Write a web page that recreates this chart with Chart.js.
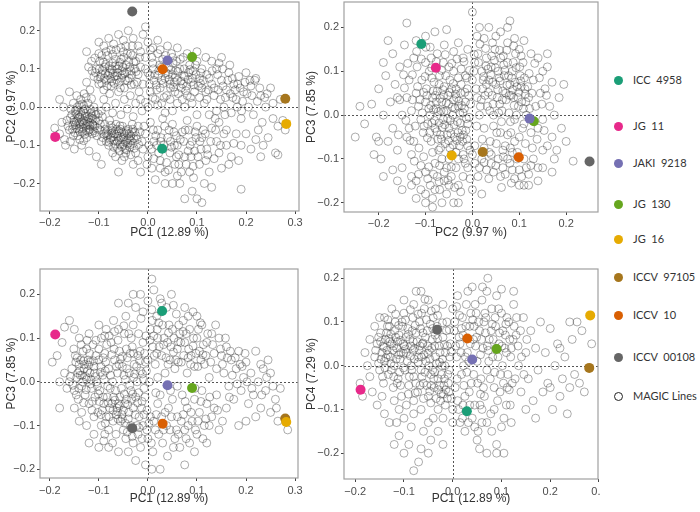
<!DOCTYPE html>
<html>
<head>
<meta charset="utf-8">
<script src="https://cdn.jsdelivr.net/npm/chart.js@4.4.1/dist/chart.umd.min.js"></script>
<style>
  body { margin: 0; background: #fff; }
  #wrap { position: relative; width: 700px; height: 512px; overflow: hidden; }
  canvas { position: absolute; }
  #clip4 { position: absolute; left: 300px; top: 260px; width: 300px; height: 252px; overflow: hidden; }
  .leg { position: absolute; left: 614px; font: 11px Lato, "Open Sans", sans-serif; color: #333; white-space: pre; line-height: 14px; }
  .leg i { display: inline-block; width: 9px; height: 9px; border-radius: 50%; margin-right: 10px; vertical-align: -1px; box-sizing: border-box; }
</style>
</head>
<body>
<div id="wrap">
  <canvas id="p1" width="304" height="248" style="left:0;top:-3px"></canvas>
  <canvas id="p2" width="303" height="248" style="left:300px;top:-3px"></canvas>
  <canvas id="p3" width="303" height="252" style="left:0;top:260px"></canvas>
  <div id="clip4"><canvas id="p4" width="303" height="252" style="left:0;top:0"></canvas></div>
  <div id="legend"></div>
</div>
<script>
// parent genotypes and their scores on the first four PCs
const genotypes = ['ICC  4958', 'JG  11', 'JAKI  9218', 'JG  130', 'JG  16', 'ICCV  97105', 'ICCV  10', 'ICCV  00108'];
const genoColors = ['#1b9e77', '#e7298a', '#7570b3', '#66a61e', '#e6ab02', '#a6761d', '#d95f02', '#666666'];
const pc1 = [0.029, -0.189, 0.040, 0.090, 0.282, 0.280, 0.030, -0.032];
const pc2 = [-0.109, -0.078, 0.122, 0.131, -0.044, 0.022, 0.099, 0.250];
const pc3 = [0.162, 0.108, -0.008, -0.014, -0.092, -0.084, -0.096, -0.106];
const pc4 = [-0.104, -0.055, 0.014, 0.038, 0.115, -0.005, 0.062, 0.082];

const axisTitles = ['PC1 (12.89 %)', 'PC2 (9.97 %)', 'PC3 (7.85 %)', 'PC4 (7.29 %)'];
const ticksA = [-0.2, -0.1, 0, 0.1, 0.2, 0.3];
const ticksB = [-0.2, -0.1, 0, 0.1, 0.2];

// MAGIC lines (x, y)
const cloudPC1PC2 = [
  [-0.155,-0.02],[-0.15,-0.04],[-0.148,-0.01],[-0.145,-0.055],[-0.142,-0.03],[-0.14,0.005],[-0.138,-0.045],[-0.135,-0.02],[-0.133,-0.065],[-0.13,-0.035],[-0.128,-0.005],[-0.126,-0.05],[-0.124,-0.025],[-0.122,0.01],[-0.12,-0.06],[-0.118,-0.04],[-0.116,-0.015],[-0.114,-0.07],[-0.112,-0.03],[-0.11,0.0],[-0.108,-0.05],[-0.106,-0.02],[-0.104,-0.075],[-0.16,-0.06],[-0.165,-0.035],[-0.152,0.01],[-0.137,0.02],[-0.125,-0.08],[-0.143,-0.075],[-0.1,-0.035],[-0.098,-0.06],[-0.132,-0.01],[-0.119,-0.048],[-0.146,-0.038],
  [-0.158,-0.028],[-0.153,-0.048],[-0.149,-0.067],[-0.147,-0.018],[-0.144,0.0],[-0.141,-0.058],[-0.139,-0.027],[-0.136,-0.052],[-0.134,0.008],[-0.131,-0.043],[-0.129,-0.072],[-0.127,-0.017],[-0.123,-0.038],[-0.121,-0.066],[-0.117,-0.006],[-0.113,-0.045],[-0.111,-0.062],[-0.109,-0.012],[-0.107,-0.035],[-0.103,-0.055],[-0.101,-0.018],[-0.139,-0.085],[-0.152,-0.075],[-0.163,-0.05],[-0.157,-0.005],[-0.126,0.025],[-0.115,0.022],[-0.097,-0.045],[-0.093,-0.025],[-0.131,-0.088],
  [-0.151,-0.033],[-0.147,-0.046],[-0.143,-0.022],[-0.141,-0.041],[-0.137,-0.013],[-0.134,-0.038],[-0.132,-0.056],[-0.128,-0.024],[-0.124,-0.046],[-0.121,-0.031],[-0.118,-0.058],[-0.114,-0.023],[-0.112,-0.047],[-0.139,-0.064],[-0.126,-0.062],[-0.145,-0.008],[-0.131,0.004],[-0.117,-0.028],[-0.154,-0.058],[-0.108,-0.067],
  [-0.19,-0.055],[-0.18,-0.07],[-0.175,-0.04],[-0.17,-0.085],[-0.172,0.0],[-0.18,0.02],[-0.168,-0.1],[-0.158,-0.09],[-0.15,-0.11],[-0.135,-0.1],[-0.12,-0.115],[-0.105,-0.13],[-0.095,-0.15],[-0.145,0.03],[-0.16,0.04],[-0.13,0.035],
  [-0.09,-0.07],[-0.088,-0.045],[-0.085,-0.09],[-0.082,-0.06],[-0.08,-0.1],[-0.078,-0.035],[-0.075,-0.08],[-0.072,-0.055],[-0.07,-0.105],[-0.068,-0.07],[-0.065,-0.045],[-0.062,-0.09],[-0.06,-0.062],[-0.058,-0.115],[-0.055,-0.08],[-0.052,-0.05],[-0.05,-0.098],[-0.048,-0.07],[-0.045,-0.12],[-0.042,-0.085],[-0.04,-0.058],[-0.037,-0.105],[-0.035,-0.075],[-0.032,-0.045],[-0.03,-0.095],[-0.027,-0.065],[-0.025,-0.12],[-0.022,-0.085],[-0.02,-0.05],[-0.095,-0.09],[-0.066,-0.13],[-0.053,-0.14],
  [-0.092,-0.08],[-0.087,-0.058],[-0.083,-0.075],[-0.079,-0.092],[-0.076,-0.048],[-0.073,-0.068],[-0.069,-0.088],[-0.064,-0.058],[-0.061,-0.076],[-0.057,-0.098],[-0.054,-0.065],[-0.051,-0.085],[-0.047,-0.108],[-0.044,-0.062],[-0.041,-0.095],[-0.038,-0.07],[-0.034,-0.088],[-0.031,-0.058],[-0.028,-0.108],[-0.024,-0.075],[-0.019,-0.098],[-0.016,-0.065],[-0.072,-0.12],[-0.048,-0.13],[-0.035,-0.125],
  [-0.081,-0.071],[-0.077,-0.085],[-0.074,-0.062],[-0.071,-0.078],[-0.067,-0.097],[-0.064,-0.07],[-0.059,-0.086],[-0.056,-0.058],[-0.053,-0.104],[-0.049,-0.078],[-0.046,-0.092],[-0.043,-0.068],[-0.039,-0.082],[-0.036,-0.099],[-0.033,-0.066],[-0.029,-0.082],[-0.062,-0.108],[-0.044,-0.112],[-0.086,-0.068],[-0.057,-0.049],
  [-0.095,-0.01],[-0.09,0.02],[-0.085,0.0],[-0.078,0.035],[-0.072,-0.015],[-0.066,0.01],[-0.06,0.04],[-0.055,-0.02],[-0.048,0.02],[-0.042,-0.005],[-0.036,0.03],[-0.03,-0.025],[-0.025,0.01],[-0.018,0.04],[-0.012,-0.01],
  [-0.11,0.08],[-0.105,0.1],[-0.1,0.06],[-0.098,0.12],[-0.095,0.085],[-0.09,0.045],[-0.088,0.105],[-0.085,0.07],[-0.082,0.135],[-0.078,0.09],[-0.075,0.055],[-0.072,0.115],[-0.068,0.08],[-0.065,0.15],[-0.062,0.1],[-0.058,0.065],[-0.055,0.125],[-0.052,0.085],[-0.048,0.05],[-0.045,0.11],[-0.042,0.14],[-0.038,0.075],[-0.035,0.095],[-0.032,0.16],[-0.028,0.06],[-0.025,0.12],[-0.02,0.085],[-0.015,0.105],[-0.118,0.045],[-0.125,0.065],[-0.115,0.12],[-0.1,0.14],
  [-0.107,0.09],[-0.102,0.073],[-0.099,0.1],[-0.094,0.062],[-0.091,0.118],[-0.087,0.088],[-0.083,0.055],[-0.079,0.108],[-0.076,0.075],[-0.073,0.098],[-0.069,0.062],[-0.066,0.125],[-0.063,0.082],[-0.059,0.108],[-0.056,0.05],[-0.053,0.095],[-0.049,0.13],[-0.046,0.07],[-0.043,0.092],[-0.039,0.118],[-0.034,0.058],[-0.031,0.135],[-0.027,0.1],[-0.022,0.065],[-0.017,0.13],
  [-0.097,0.078],[-0.093,0.096],[-0.089,0.075],[-0.086,0.112],[-0.081,0.083],[-0.077,0.1],[-0.074,0.067],[-0.071,0.088],[-0.067,0.108],[-0.064,0.072],[-0.061,0.09],[-0.057,0.117],[-0.054,0.076],[-0.051,0.104],[-0.047,0.088],[-0.041,0.069],[-0.037,0.105],[-0.033,0.084],[-0.029,0.118],[-0.024,0.093],
  [-0.114,0.095],[-0.121,0.105],[-0.108,0.128],[-0.094,0.135],[-0.072,0.138],[-0.05,0.145],
  [-0.09,0.16],[-0.08,0.18],[-0.07,0.165],[-0.06,0.19],[-0.05,0.175],[-0.04,0.2],[-0.03,0.18],[-0.02,0.16],[-0.01,0.19],[0.0,0.17],[-0.005,0.21],[0.01,0.155],[0.02,0.175],[0.04,0.16],[-0.1,0.17],[-0.045,0.16],[0.06,0.155],[-0.125,0.145],
  [-0.085,0.145],[-0.075,0.15],[-0.055,0.155],[-0.035,0.14],[-0.015,0.145],[0.005,0.15],[0.025,0.15],[0.05,0.13],[0.08,0.14],[0.1,0.145],
  [-0.01,0.06],[-0.005,0.13],[0.0,0.09],[0.005,0.04],[0.01,0.115],[0.012,0.07],[0.015,0.02],[0.02,0.14],[0.022,0.095],[0.025,0.05],[0.03,0.125],[0.035,0.075],[0.038,0.03],[0.042,0.105],[0.045,0.06],[0.048,0.14],[0.05,0.085],[0.055,0.04],[0.058,0.12],[0.06,0.07],[0.065,0.1],[0.068,0.05],[0.072,0.13],[0.075,0.08],[0.08,0.03],[0.085,0.11],[0.088,0.065],[0.092,0.095],[0.095,0.04],[0.1,0.12],[0.105,0.075],[0.11,0.1],[0.0,0.0],[0.02,0.005],[0.06,0.01],[0.07,0.02],
  [-0.005,0.1],[0.003,0.06],[0.008,0.13],[0.014,0.085],[0.018,0.045],[0.024,0.11],[0.028,0.07],[0.033,0.025],[0.036,0.135],[0.041,0.085],[0.046,0.05],[0.051,0.115],[0.054,0.065],[0.057,0.095],[0.062,0.035],[0.066,0.125],[0.071,0.06],[0.074,0.1],[0.079,0.055],[0.083,0.09],[0.087,0.025],[0.091,0.075],[0.097,0.11],[0.103,0.055],[0.108,0.09],[0.113,0.07],[0.118,0.04],[0.045,0.02],[0.01,0.025],[-0.015,0.02],
  [0.004,0.082],[0.011,0.1],[0.017,0.058],[0.021,0.083],[0.027,0.104],[0.031,0.062],[0.037,0.09],[0.043,0.072],[0.047,0.098],[0.052,0.052],[0.056,0.078],[0.061,0.093],[0.067,0.068],[0.073,0.083],[0.077,0.043],[0.082,0.072],[0.086,0.098],[0.093,0.058],[0.098,0.085],[0.107,0.062],
  [-0.005,0.012],[0.028,0.01],[0.05,-0.01],[0.075,0.0],[0.09,0.01],[0.1,-0.02],[0.105,0.025],[0.035,-0.015],
  [0.11,0.05],[0.115,0.01],[0.12,0.085],[0.125,-0.02],[0.13,0.06],[0.135,0.03],[0.14,0.1],[0.145,-0.04],[0.15,0.07],[0.155,0.0],[0.16,0.045],[0.165,0.09],[0.17,-0.015],[0.175,0.06],[0.18,0.02],[0.185,0.08],[0.19,-0.03],[0.195,0.04],[0.2,0.09],[0.205,0.0],[0.13,0.12],[0.15,0.13],[0.12,0.02],[0.14,-0.01],[0.16,-0.06],
  [0.125,0.075],[0.135,0.05],[0.142,0.085],[0.148,0.02],[0.153,0.055],[0.158,0.025],[0.163,0.07],[0.168,0.035],[0.172,0.075],[0.178,0.045],[0.182,0.0],[0.188,0.05],[0.193,0.015],[0.198,0.065],[0.212,0.03],[0.218,0.07],[0.228,0.05],[0.238,0.025],[0.145,0.115],[0.118,0.13],
  [0.123,0.045],[0.131,0.095],[0.137,-0.03],[0.143,0.045],[0.152,0.1],[0.157,-0.02],[0.167,0.11],[0.173,0.025],[0.183,0.06],[0.191,-0.01],[0.202,0.035],[0.208,0.07],[0.223,0.015],[0.233,-0.04],[0.243,0.035],
  [0.21,0.055],[0.215,-0.02],[0.22,0.075],[0.225,-0.06],[0.23,0.03],[0.235,-0.1],[0.24,0.0],[0.245,-0.08],[0.25,0.05],[0.255,-0.03],[0.26,-0.12],[0.265,-0.05],[0.27,0.02],[0.275,-0.035],[0.23,-0.13],[0.21,-0.11],[0.22,-0.085],[0.2,-0.07],[0.255,0.01],[0.28,-0.06],[0.265,-0.125],
  [-0.02,-0.14],[-0.015,-0.17],[-0.01,-0.11],[-0.005,-0.07],[0.0,-0.13],[0.005,-0.04],[0.008,-0.16],[0.012,-0.09],[0.015,-0.19],[0.02,-0.06],[0.025,-0.14],[0.03,-0.03],[0.035,-0.17],[0.04,-0.08],[0.045,-0.12],[0.05,-0.045],[0.055,-0.15],[0.06,-0.1],[0.065,-0.2],[0.07,-0.065],[0.075,-0.13],[0.08,-0.035],[0.085,-0.17],[0.09,-0.09],[0.095,-0.115],[0.1,-0.05],[0.105,-0.15],[0.11,-0.08],[0.115,-0.2],[0.12,-0.11],[0.125,-0.17],[0.13,-0.055],[0.135,-0.135],[0.14,-0.09],[0.15,-0.16],[0.16,-0.1],[0.17,-0.13],[0.18,-0.07],[0.19,-0.1],[0.075,-0.24],[0.1,-0.24],[0.11,-0.25],[0.09,-0.22],[0.05,-0.2],[0.13,-0.21],[0.19,-0.215],[-0.06,-0.17],[-0.03,-0.15],[0.06,-0.18],
  [-0.012,-0.09],[-0.002,-0.15],[0.007,-0.11],[0.016,-0.075],[0.022,-0.12],[0.032,-0.1],[0.038,-0.145],[0.043,-0.06],[0.048,-0.105],[0.058,-0.075],[0.063,-0.125],[0.068,-0.17],[0.073,-0.09],[0.078,-0.15],[0.083,-0.06],[0.088,-0.13],[0.093,-0.185],[0.098,-0.08],[0.108,-0.11],[0.113,-0.06],[0.118,-0.14],[0.128,-0.09],[0.138,-0.06],[0.145,-0.12],[0.155,-0.07],[0.165,-0.15],[0.175,-0.095],[0.185,-0.14],[0.035,-0.2],[0.012,-0.135],
  [-0.008,-0.05],[0.002,-0.1],[0.011,-0.06],[0.018,-0.1],[0.027,-0.08],[0.034,-0.05],[0.046,-0.09],[0.053,-0.065],[0.066,-0.085],[0.076,-0.06],[0.086,-0.1],[0.096,-0.065],[0.106,-0.09],[0.117,-0.07],[0.025,-0.16],[0.058,-0.13],
  [0.026,-0.09],[0.054,-0.1],[0.082,-0.115],[0.102,-0.13],[0.122,-0.125],[0.063,-0.15],[0.042,-0.165],[0.092,-0.155],[0.148,-0.1]
];

const cloudPC2PC3 = [
  [-0.12,0.05],[-0.115,0.02],[-0.11,-0.01],[-0.108,0.08],[-0.105,-0.04],[-0.1,0.03],[-0.098,0.06],[-0.095,-0.02],[-0.092,0.1],[-0.09,0.0],[-0.088,-0.06],[-0.085,0.04],[-0.082,0.075],[-0.08,-0.03],[-0.078,0.015],[-0.075,0.055],[-0.072,-0.08],[-0.07,0.09],[-0.068,-0.045],[-0.065,0.03],[-0.062,-0.01],[-0.06,0.065],[-0.058,-0.065],[-0.055,0.01],[-0.052,0.045],[-0.05,-0.03],[-0.048,0.08],[-0.045,-0.09],[-0.042,0.0],[-0.04,0.035],[-0.038,-0.05],[-0.035,0.06],[-0.032,-0.015],[-0.03,0.02],[-0.028,-0.07],[-0.025,0.05],[-0.022,-0.035],[-0.02,0.005],[-0.018,-0.1],[-0.015,0.03],[-0.012,-0.055],[-0.01,-0.02],[-0.008,0.045],[-0.005,-0.08],[-0.13,0.01],[-0.135,-0.03],[-0.14,0.04],[-0.125,-0.06],[-0.118,0.11],[-0.1,0.12],[-0.088,0.13],[-0.075,0.14],[-0.062,0.12],[-0.05,0.11],[-0.04,0.1],[-0.03,0.085],[-0.015,0.09],[-0.065,-0.1],[-0.055,-0.12],[-0.08,-0.11],
  [-0.117,0.065],[-0.112,0.035],[-0.107,0.005],[-0.103,-0.025],[-0.101,0.088],[-0.097,0.045],[-0.093,0.015],[-0.091,-0.04],[-0.087,0.085],[-0.084,0.055],[-0.081,-0.012],[-0.077,0.03],[-0.074,-0.055],[-0.071,0.07],[-0.067,0.01],[-0.064,-0.028],[-0.061,0.045],[-0.057,0.09],[-0.054,-0.045],[-0.051,0.025],[-0.047,-0.012],[-0.044,0.06],[-0.041,-0.068],[-0.037,0.015],[-0.034,0.04],[-0.031,-0.04],[-0.027,0.005],[-0.024,0.07],[-0.021,-0.06],[-0.017,0.015],[-0.014,-0.035],[-0.011,0.06],[-0.007,-0.005],[-0.004,0.025],[-0.068,-0.075],[-0.048,-0.075],[-0.035,-0.085],[-0.026,-0.05],[-0.01,-0.07],[-0.085,-0.085],
  [-0.089,0.022],[-0.086,-0.018],[-0.083,0.012],[-0.079,0.045],[-0.076,-0.038],[-0.073,0.008],[-0.069,0.038],[-0.066,-0.055],[-0.063,0.058],[-0.059,-0.022],[-0.056,0.028],[-0.053,-0.008],[-0.049,0.052],[-0.046,-0.042],[-0.043,0.018],[-0.039,-0.022],[-0.036,0.048],[-0.033,-0.058],[-0.029,0.032],[-0.026,-0.018],[-0.023,0.022],[-0.019,-0.045],[-0.016,0.052],[-0.013,-0.008],[-0.071,-0.018],[-0.061,0.008],[-0.051,-0.058],[-0.041,0.072],[-0.096,-0.052],[-0.104,0.052],
  [-0.128,0.092],[-0.122,-0.025],[-0.119,0.145],[-0.114,-0.075],[-0.109,0.128],[-0.104,-0.095],[-0.099,0.155],[-0.093,-0.118],[-0.087,0.108],[-0.083,-0.135],[-0.077,0.122],[-0.071,-0.152],[-0.066,0.102],[-0.058,0.138],[-0.052,-0.148],[-0.044,0.118],[-0.038,-0.165],[-0.033,0.128],[-0.024,0.105],[-0.018,0.122],[-0.012,0.085],[-0.006,0.102],
  [-0.145,0.062],[-0.142,-0.012],[-0.138,0.118],[-0.133,-0.058],[-0.128,0.035],[-0.124,-0.105],[-0.147,0.092],[-0.155,0.035],[-0.158,-0.045],[-0.115,-0.135],[-0.045,-0.118],
  [0.0,0.08],[0.005,0.12],[0.01,0.04],[0.012,0.14],[0.015,0.0],[0.02,0.1],[0.022,0.06],[0.025,-0.03],[0.03,0.13],[0.032,0.02],[0.035,0.08],[0.038,-0.06],[0.04,0.11],[0.042,0.045],[0.045,0.0],[0.048,0.15],[0.05,0.07],[0.052,-0.04],[0.055,0.1],[0.058,0.025],[0.06,0.13],[0.062,-0.015],[0.065,0.055],[0.068,0.09],[0.07,-0.07],[0.072,0.035],[0.075,0.12],[0.078,0.005],[0.08,0.07],[0.082,-0.04],[0.085,0.1],[0.088,0.04],[0.09,-0.01],[0.092,0.14],[0.095,0.065],[0.098,0.02],[0.1,-0.05],[0.102,0.09],[0.105,0.03],[0.108,0.12],[0.11,-0.02],[0.112,0.06],[0.115,0.0],[0.12,0.04],[0.125,-0.04],[0.13,0.08],[0.135,0.02],[0.14,-0.03],[0.145,0.05],[0.15,-0.01],
  [0.003,0.1],[0.008,0.06],[0.013,0.12],[0.017,0.02],[0.023,0.08],[0.027,0.045],[0.033,0.105],[0.037,0.01],[0.043,0.075],[0.047,0.125],[0.053,0.04],[0.057,0.085],[0.063,0.01],[0.067,0.115],[0.071,0.05],[0.077,0.09],[0.081,-0.015],[0.083,0.045],[0.087,0.12],[0.091,0.075],[0.094,0.0],[0.097,0.04],[0.101,0.11],[0.104,0.065],[0.107,-0.03],[0.111,0.085],[0.114,0.03],[0.118,0.065],[0.122,0.015],[0.127,0.05],[0.06,-0.04],[0.075,-0.045],[0.045,-0.025],[0.09,-0.06],[0.03,0.07],
  [0.019,0.035],[0.024,0.088],[0.029,0.112],[0.034,0.052],[0.039,0.092],[0.044,0.025],[0.049,0.108],[0.054,0.058],[0.059,0.078],[0.064,0.035],[0.069,0.102],[0.074,0.068],[0.079,0.045],[0.084,0.085],[0.089,0.022],[0.093,0.108],[0.099,0.052],[0.103,0.078],[0.109,0.015],[0.113,0.048],[0.041,0.135],[0.066,0.135],[0.086,0.058],[0.056,0.005],
  [0.004,0.138],[0.009,-0.025],[0.016,0.162],[0.021,-0.055],[0.028,0.152],[0.036,-0.085],[0.043,0.165],[0.051,-0.065],[0.058,0.148],[0.066,-0.095],[0.073,0.148],[0.081,-0.075],[0.088,0.158],[0.096,-0.085],[0.104,0.135],[0.113,-0.065],[0.121,0.095],[0.128,-0.075],[0.133,0.118],[0.138,-0.055],[0.143,0.085],[0.148,0.025],[0.153,-0.035],[0.158,0.045],[0.025,-0.108],[0.062,-0.165],[0.083,-0.155],
  [-0.1,-0.13],[-0.09,-0.16],[-0.085,-0.19],[-0.075,-0.14],[-0.07,-0.17],[-0.065,-0.2],[-0.06,-0.15],[-0.055,-0.18],[-0.045,-0.14],[-0.035,-0.12],[-0.03,-0.16],[-0.02,-0.14],[-0.01,-0.12],[0.0,-0.17],[0.005,-0.11],[0.012,-0.14],[0.02,-0.1],[0.03,-0.125],[0.04,-0.09],[0.045,-0.13],[0.055,-0.1],[0.065,-0.12],[0.075,-0.1],[0.085,-0.125],[0.09,-0.145],[0.1,-0.125],[0.11,-0.16],[0.12,-0.135],[0.13,-0.1],[0.14,-0.12],[0.15,-0.08],[0.02,-0.18],[-0.04,-0.2],[0.1,-0.16],[0.06,-0.14],[-0.11,-0.115],[-0.02,-0.09],[0.005,-0.07],
  [-0.095,-0.145],[-0.08,-0.17],[-0.05,-0.16],[-0.025,-0.175],[-0.005,-0.145],[0.015,-0.12],[0.035,-0.145],[0.05,-0.115],[0.07,-0.135],[0.08,-0.11],[0.095,-0.1],[0.105,-0.14],[0.125,-0.115],[-0.06,-0.13],[-0.015,-0.11],
  [-0.07,-0.115],[-0.05,-0.1],[-0.03,-0.1],[0.0,-0.09],[0.025,-0.075],[0.04,-0.11],[0.065,-0.08],[0.085,-0.085],[0.11,-0.1],[0.115,-0.12],
  [-0.25,-0.05],[-0.24,0.02],[-0.23,-0.02],[-0.215,0.025],[-0.21,-0.09],[-0.205,-0.05],[-0.2,0.06],[-0.195,-0.1],[-0.19,0.12],[-0.19,0.0],[-0.185,0.09],[-0.18,-0.06],[-0.175,0.03],[-0.17,0.14],[-0.17,-0.03],[-0.165,0.07],[-0.16,-0.08],[-0.155,0.11],[-0.15,0.0],[-0.15,-0.12],[-0.145,0.16],[-0.14,-0.05],[-0.14,0.21],[-0.135,0.08],[-0.13,-0.09],[-0.125,0.13],[-0.12,-0.15],[-0.18,0.17],[-0.2,-0.06],[-0.16,0.04],[-0.13,-0.16],[-0.12,0.17],
  [-0.1,0.18],[-0.09,0.155],[-0.08,0.19],[-0.06,0.16],[-0.055,0.195],[-0.04,0.145],[-0.03,0.165],[-0.02,0.13],[-0.01,0.15],[0.0,0.235],[0.01,0.18],[0.015,0.2],[0.025,0.175],[0.035,0.2],[0.05,0.18],[0.06,0.19],[0.075,0.165],[0.08,0.215],[0.09,0.175],[0.1,0.15],[0.11,0.17],[0.125,0.14],[0.075,0.2],
  [0.14,0.13],[0.15,0.1],[0.155,0.06],[0.16,0.14],[0.165,0.02],[0.17,-0.05],[0.17,0.075],[0.175,0.0],[0.18,-0.08],[0.185,0.04],[0.19,-0.03],[0.195,0.07],[0.2,-0.06],[0.16,-0.07],[0.15,-0.12],[0.14,-0.15],[0.12,-0.16],[0.175,-0.1],[0.215,-0.105],[0.16,0.11],[0.17,-0.13],
  [-0.19,-0.14],[-0.17,-0.125],[-0.16,-0.15],[-0.15,-0.17],[-0.13,-0.14],[-0.12,-0.19],[-0.11,-0.17],[-0.1,-0.2],[-0.085,-0.21],[-0.03,-0.2],[-0.1,-0.18]
];

const cloudPC1PC3 = [
  [-0.16,0.0],[-0.155,0.03],[-0.15,-0.02],[-0.148,0.06],[-0.145,0.01],[-0.142,-0.04],[-0.14,0.04],[-0.138,0.015],[-0.135,-0.01],[-0.132,0.07],[-0.13,0.03],[-0.128,-0.03],[-0.125,0.005],[-0.122,0.05],[-0.12,-0.05],[-0.118,0.02],[-0.115,-0.015],[-0.112,0.085],[-0.11,0.035],[-0.108,-0.035],[-0.105,0.0],[-0.102,-0.07],[-0.1,0.05],[-0.098,-0.02],[-0.095,0.1],[-0.092,0.015],[-0.09,-0.05],[-0.088,0.065],[-0.085,-0.08],[-0.082,-0.01],[-0.08,0.03],[-0.078,-0.06],[-0.075,0.09],[-0.072,0.0],[-0.07,-0.035],[-0.068,0.05],[-0.065,-0.075],[-0.062,0.02],[-0.06,-0.05],[-0.058,0.07],[-0.056,-0.09],[-0.054,-0.015],[-0.052,0.035],[-0.05,-0.065],[-0.048,0.11],[-0.046,0.005],[-0.044,-0.04],[-0.042,0.055],[-0.04,-0.085],[-0.038,0.02],[-0.035,-0.02],[-0.032,0.08],[-0.03,-0.06],[-0.028,0.04],[-0.025,-0.035],[-0.022,0.0],[-0.02,0.06],[-0.018,-0.08],[-0.015,0.025],[-0.012,-0.045],[-0.01,0.09],[-0.008,-0.015],[-0.005,0.045],[-0.002,-0.065],[-0.17,0.02],[-0.165,-0.015],[-0.14,0.1],[-0.12,0.11],[-0.1,0.13],[-0.085,0.12],[-0.07,0.14],[-0.06,0.12],[-0.045,0.15],[-0.03,0.13],[-0.11,-0.08],[-0.095,-0.1],[-0.08,-0.11],[-0.065,-0.12],[-0.05,-0.11],[-0.15,-0.06],[-0.135,-0.07],[-0.125,-0.1],[-0.11,-0.12],[-0.09,-0.135],
  [-0.158,0.012],[-0.153,-0.008],[-0.147,0.045],[-0.143,0.02],[-0.141,-0.015],[-0.137,0.05],[-0.133,0.0],[-0.129,0.04],[-0.126,-0.018],[-0.123,0.025],[-0.119,0.065],[-0.116,0.005],[-0.113,-0.045],[-0.109,0.02],[-0.106,0.06],[-0.103,-0.01],[-0.099,-0.045],[-0.096,0.035],[-0.093,-0.065],[-0.089,0.005],[-0.086,0.045],[-0.083,-0.035],[-0.079,-0.08],[-0.076,0.015],[-0.073,-0.05],[-0.069,0.075],[-0.066,-0.02],[-0.063,-0.06],[-0.059,0.04],[-0.057,-0.035],[-0.053,-0.075],[-0.049,0.015],[-0.047,-0.05],[-0.043,0.03],[-0.039,-0.07],[-0.036,0.065],[-0.033,-0.04],[-0.029,0.01],[-0.026,-0.075],[-0.023,0.035],[-0.019,-0.025],[-0.016,0.07],[-0.013,-0.06],[-0.009,0.005],[-0.006,-0.035],[-0.003,0.025],[-0.071,-0.09],[-0.061,-0.085],[-0.046,-0.095],[-0.087,-0.095],
  [-0.139,0.025],[-0.134,0.015],[-0.131,0.048],[-0.127,0.012],[-0.121,0.038],[-0.117,-0.005],[-0.111,0.048],[-0.107,0.012],[-0.101,-0.028],[-0.097,0.022],[-0.091,-0.035],[-0.087,0.025],[-0.081,-0.048],[-0.077,-0.015],[-0.071,-0.065],[-0.067,-0.042],[-0.062,-0.068],[-0.058,-0.055],[-0.052,-0.085],[-0.048,-0.028],[-0.041,-0.052],[-0.037,-0.008],[-0.031,-0.028],[-0.027,0.018],[-0.021,-0.048],[-0.017,0.048],[-0.011,0.018],[-0.007,0.065],[-0.056,0.052],[-0.064,0.035],[-0.052,0.058],[-0.044,0.075],[-0.074,0.062],[-0.084,0.085],[-0.1,0.075],[-0.118,0.045],[-0.144,0.055],[-0.125,0.075],[-0.091,0.055],[-0.034,0.1],
  [-0.151,0.075],[-0.146,-0.03],[-0.136,0.085],[-0.131,-0.048],[-0.124,0.095],[-0.114,-0.065],[-0.106,0.095],[-0.096,-0.075],[-0.088,0.105],[-0.079,0.105],[-0.068,0.115],[-0.061,0.095],[-0.049,0.128],[-0.039,0.11],[-0.029,0.065],[-0.019,0.11],[-0.014,0.145],[-0.004,0.105],[-0.088,-0.12],[-0.072,-0.14],
  [-0.195,0.045],[-0.185,0.06],[-0.18,0.0],[-0.18,-0.06],[-0.175,0.09],[-0.17,0.125],[-0.16,0.14],[-0.15,0.12],[-0.14,-0.09],[-0.12,-0.14],[-0.1,-0.15],[-0.08,-0.15],[-0.06,-0.16],
  [-0.025,0.17],[-0.015,0.2],[-0.01,0.16],[0.0,0.185],[0.005,0.12],[0.008,0.235],[0.01,0.08],[0.012,0.21],[0.015,0.04],[0.018,0.15],[0.02,0.1],[0.025,0.19],[0.028,0.06],[0.03,0.13],[0.035,0.02],[0.038,0.17],[0.04,0.09],[0.045,0.05],[0.048,0.2],[0.05,0.12],[0.055,0.03],[0.058,0.155],[0.06,0.075],[0.065,0.11],[0.068,0.045],[0.072,0.14],[0.075,0.09],[0.08,0.02],[0.085,0.12],[0.088,0.06],[0.092,0.16],[0.095,0.035],[0.1,0.1],[0.105,0.07],[0.11,0.13],[0.115,0.04],[0.12,0.09],[0.125,0.01],[0.13,0.11],[0.135,0.065],[0.14,0.03],[0.145,0.1],[0.075,0.17],[0.1,0.15],[0.02,0.01],[0.0,0.05],[0.003,0.0],[-0.04,0.18],[-0.06,0.18],[-0.03,0.2],
  [0.004,0.095],[0.009,0.14],[0.013,0.06],[0.019,0.12],[0.023,0.08],[0.027,0.16],[0.033,0.1],[0.037,0.055],[0.043,0.13],[0.047,0.08],[0.053,0.1],[0.057,0.05],[0.063,0.13],[0.067,0.09],[0.073,0.06],[0.078,0.11],[0.083,0.075],[0.087,0.04],[0.093,0.1],[0.098,0.065],[0.103,0.12],[0.108,0.05],[0.113,0.085],[0.118,0.06],[0.128,0.045],
  [0.012,0.105],[0.022,0.135],[0.032,0.085],[0.042,0.112],[0.052,0.068],[0.062,0.092],[0.072,0.115],[0.082,0.055],[0.092,0.082],[0.102,0.035],[0.112,0.062],[0.122,0.11],[0.132,0.085],[0.062,0.045],[0.041,0.04],[0.018,0.065],
  [0.008,0.165],[0.028,0.18],[0.052,0.175],[0.082,0.15],[0.107,0.135],[0.138,0.13],[0.148,0.075],[0.158,0.1],[0.168,0.07],[0.178,0.055],[0.188,0.04],[0.198,0.065],
  [0.15,0.06],[0.155,0.02],[0.16,0.08],[0.165,-0.01],[0.17,0.05],[0.175,-0.04],[0.18,0.03],[0.185,0.07],[0.19,-0.02],[0.195,0.01],[0.2,0.045],[0.205,-0.05],[0.21,0.02],[0.215,-0.03],[0.22,0.07],[0.225,0.0],[0.23,-0.06],[0.235,0.03],[0.24,-0.02],[0.245,0.05],[0.25,-0.07],[0.255,-0.01],[0.26,-0.04],[0.265,-0.09],[0.27,-0.015],[0.22,-0.08],[0.2,-0.09],[0.185,-0.1],[0.23,0.04],[0.25,0.02],[0.285,-0.11],
  [0.152,0.04],[0.162,0.055],[0.172,0.015],[0.182,-0.005],[0.192,0.035],[0.202,0.0],[0.212,-0.015],[0.232,-0.03],[0.242,0.01],[0.262,-0.06],
  [-0.045,-0.13],[-0.04,-0.16],[-0.035,-0.1],[-0.03,-0.14],[-0.025,-0.18],[-0.02,-0.12],[-0.015,-0.15],[-0.01,-0.1],[-0.005,-0.19],[0.0,-0.13],[0.005,-0.08],[0.008,-0.2],[0.01,-0.16],[0.015,-0.11],[0.02,-0.05],[0.025,-0.2],[0.03,-0.14],[0.035,-0.07],[0.04,-0.17],[0.045,-0.11],[0.05,-0.04],[0.055,-0.13],[0.06,-0.08],[0.065,-0.15],[0.07,-0.03],[0.075,-0.11],[0.08,-0.06],[0.085,-0.14],[0.09,-0.09],[0.095,-0.04],[0.1,-0.12],[0.105,-0.07],[0.11,-0.02],[0.115,-0.1],[0.12,-0.05],[0.13,-0.08],[0.14,-0.03],[0.145,-0.11],[0.16,-0.06],[0.075,-0.19],[0.12,-0.14],[0.025,-0.03],[0.06,-0.01],[0.095,-0.16],
  [-0.042,-0.115],[-0.032,-0.125],[-0.022,-0.1],[-0.012,-0.13],[-0.002,-0.11],[0.007,-0.14],[0.012,-0.09],[0.022,-0.12],[0.028,-0.08],[0.038,-0.1],[0.048,-0.08],[0.052,-0.15],[0.058,-0.11],[0.068,-0.09],[0.078,-0.13],[0.088,-0.07],[0.102,-0.09],[0.112,-0.13],[0.125,-0.1],[0.135,-0.06],
  [-0.018,-0.105],[-0.008,-0.075],[0.002,-0.095],[0.017,-0.075],[0.032,-0.11],[0.042,-0.06],[0.062,-0.12],[0.072,-0.075],[0.082,-0.1],[0.097,-0.11],[0.108,-0.045],[0.118,-0.085],
  [0.016,-0.025],[0.046,-0.02],[0.076,-0.045],[0.096,-0.015],[0.126,-0.035],[0.142,-0.065],[0.152,-0.09],[0.166,-0.035]
];

const cloudPC1PC4 = [
  [-0.16,0.02],[-0.155,0.05],[-0.15,-0.01],[-0.148,0.075],[-0.145,0.03],[-0.142,-0.04],[-0.14,0.01],[-0.138,0.06],[-0.135,0.035],[-0.132,-0.02],[-0.13,0.09],[-0.128,0.02],[-0.125,0.05],[-0.122,-0.05],[-0.12,0.0],[-0.118,0.1],[-0.115,0.04],[-0.112,-0.03],[-0.11,0.07],[-0.108,0.015],[-0.105,-0.07],[-0.102,0.05],[-0.1,0.12],[-0.098,-0.01],[-0.095,0.03],[-0.092,0.085],[-0.09,-0.045],[-0.088,0.06],[-0.085,0.0],[-0.082,0.11],[-0.08,-0.025],[-0.078,0.04],[-0.075,0.075],[-0.072,-0.06],[-0.07,0.02],[-0.068,0.1],[-0.065,-0.01],[-0.062,0.05],[-0.06,-0.04],[-0.058,0.13],[-0.055,0.01],[-0.052,0.08],[-0.05,-0.07],[-0.048,0.035],[-0.045,-0.02],[-0.042,0.06],[-0.04,0.11],[-0.038,-0.05],[-0.035,0.02],[-0.032,0.09],[-0.03,-0.03],[-0.028,0.045],[-0.025,-0.08],[-0.022,0.0],[-0.02,0.065],[-0.018,-0.045],[-0.015,0.03],[-0.012,0.1],[-0.01,-0.02],[-0.008,-0.06],[-0.005,0.05],[-0.12,-0.08],[-0.11,-0.1],[-0.095,-0.09],[-0.08,-0.08],[-0.065,-0.1],[-0.125,0.13],[-0.1,0.15],[-0.08,0.14],[-0.065,0.17],[-0.05,0.15],[-0.035,0.13],[-0.02,0.14],[-0.14,0.11],[-0.145,-0.07],
  [-0.158,0.035],[-0.152,0.065],[-0.147,0.015],[-0.143,0.045],[-0.139,-0.005],[-0.136,0.075],[-0.133,0.025],[-0.129,0.055],[-0.126,-0.01],[-0.123,0.035],[-0.119,0.08],[-0.116,0.015],[-0.113,0.055],[-0.109,-0.015],[-0.106,0.03],[-0.103,0.09],[-0.099,0.045],[-0.096,0.065],[-0.093,0.01],[-0.089,-0.025],[-0.086,0.045],[-0.083,0.08],[-0.079,0.015],[-0.076,-0.04],[-0.073,0.055],[-0.069,0.035],[-0.066,0.085],[-0.063,-0.025],[-0.059,0.025],[-0.056,0.065],[-0.053,-0.045],[-0.049,0.0],[-0.046,0.095],[-0.043,0.04],[-0.039,-0.03],[-0.036,0.07],[-0.033,0.005],[-0.029,-0.055],[-0.026,0.03],[-0.023,-0.02],[-0.019,-0.065],[-0.016,0.0],[-0.013,0.08],[-0.009,-0.04],[-0.006,0.02],[-0.003,-0.075],[-0.045,-0.085],[-0.03,-0.1],[-0.015,-0.09],[-0.06,-0.075],
  [-0.141,0.042],[-0.137,0.018],[-0.131,0.062],[-0.127,0.005],[-0.121,0.045],[-0.117,0.065],[-0.111,0.025],[-0.107,0.058],[-0.101,-0.005],[-0.097,0.038],[-0.091,0.072],[-0.087,0.022],[-0.081,0.055],[-0.077,0.092],[-0.071,0.008],[-0.067,0.045],[-0.061,0.075],[-0.057,-0.015],[-0.051,0.045],[-0.047,0.015],[-0.041,-0.01],[-0.037,0.045],[-0.031,0.062],[-0.027,-0.045],[-0.021,0.015],[-0.017,-0.03],[-0.011,0.045],[-0.007,-0.01],[-0.054,0.105],[-0.084,-0.01],[-0.064,0.02],[-0.044,-0.045],[-0.024,-0.065],[-0.034,-0.075],[-0.014,-0.055],[-0.104,0.1],[-0.134,0.09],[-0.064,0.12],[-0.044,0.125],[-0.114,-0.04],
  [-0.152,0.005],[-0.148,0.055],[-0.144,-0.025],[-0.133,0.105],[-0.127,0.072],[-0.121,-0.025],[-0.117,0.118],[-0.111,0.092],[-0.107,-0.045],[-0.101,0.028],[-0.097,0.105],[-0.091,-0.065],[-0.087,0.128],[-0.081,0.035],[-0.077,-0.062],[-0.071,0.118],[-0.067,-0.045],[-0.061,0.052],[-0.057,0.152],[-0.051,0.028],[-0.047,-0.058],[-0.041,0.085],[-0.037,-0.015],[-0.031,0.115],[-0.027,0.008],[-0.021,0.098],[-0.017,0.048],[-0.011,-0.075],[-0.007,0.082],[-0.003,0.032],
  [-0.19,-0.04],[-0.185,-0.07],[-0.18,0.03],[-0.175,0.0],[-0.17,-0.025],[-0.17,0.06],[-0.165,-0.06],[-0.16,0.09],[-0.155,-0.09],[-0.15,0.11],[-0.14,-0.11],[-0.13,-0.13],[-0.115,-0.13],[-0.1,-0.12],[-0.085,-0.14],[-0.09,-0.18],[-0.08,-0.24],[-0.07,-0.22],[-0.075,0.17],[-0.06,-0.15],[-0.045,-0.17],[-0.04,-0.12],[-0.05,-0.2],[-0.065,-0.19],[-0.03,-0.15],[-0.02,-0.18],[-0.1,-0.2],[-0.11,-0.16],[-0.12,-0.18],
  [0.0,0.13],[0.003,0.08],[0.005,-0.05],[0.008,0.02],[0.01,0.16],[0.012,-0.1],[0.015,0.05],[0.018,-0.02],[0.02,0.11],[0.022,0.0],[0.025,-0.07],[0.028,0.14],[0.03,0.03],[0.032,-0.13],[0.035,0.09],[0.038,-0.04],[0.04,0.18],[0.042,0.06],[0.045,-0.09],[0.048,0.12],[0.05,0.01],[0.052,-0.15],[0.055,0.08],[0.058,-0.03],[0.06,0.15],[0.062,0.04],[0.065,-0.07],[0.068,0.11],[0.07,-0.01],[0.072,0.2],[0.075,0.06],[0.078,-0.11],[0.08,0.13],[0.082,0.02],[0.085,-0.05],[0.088,0.09],[0.09,0.16],[0.092,-0.08],[0.095,0.05],[0.098,-0.02],[0.1,0.12],[0.102,0.0],[0.105,-0.12],[0.108,0.07],[0.11,0.03],[0.112,-0.05],[0.115,0.1],[0.118,-0.09],[0.12,0.04],[0.125,0.14],[0.128,-0.03],[0.13,0.07],[0.135,0.0],[0.14,-0.06],[0.145,0.11],[0.15,0.03],[0.055,-0.19],[0.07,-0.2],[0.09,-0.18],[0.105,-0.2],[0.06,-0.13],[0.025,-0.15],[0.04,-0.12],[0.0,-0.1],[0.015,-0.13],[0.08,-0.15],[0.12,-0.13],[0.125,0.17],[0.1,0.175],[0.07,0.17],
  [0.004,0.1],[0.009,-0.03],[0.013,0.065],[0.017,0.03],[0.023,-0.045],[0.027,0.09],[0.033,0.01],[0.037,0.12],[0.043,-0.02],[0.047,0.045],[0.053,0.1],[0.057,0.025],[0.063,-0.05],[0.067,0.075],[0.073,0.035],[0.077,-0.03],[0.083,0.06],[0.087,0.11],[0.093,0.02],[0.097,-0.06],[0.103,0.08],[0.107,0.04],[0.113,-0.02],[0.117,0.06],[0.122,-0.04],
  [0.006,0.045],[0.014,0.115],[0.021,0.07],[0.029,-0.015],[0.036,0.05],[0.044,0.09],[0.051,-0.04],[0.059,0.06],[0.066,0.12],[0.074,0.01],[0.081,0.095],[0.089,0.04],[0.096,0.075],[0.104,-0.04],[0.111,0.11],[0.119,0.02],[0.126,0.09],[0.134,0.045],[0.141,0.02],[0.046,0.14],[0.031,0.17],[0.061,0.18],[0.056,-0.09],[0.021,-0.09],
  [0.008,0.135],[0.018,0.085],[0.026,0.02],[0.034,-0.06],[0.041,0.105],[0.049,0.065],[0.057,-0.065],[0.064,0.1],[0.071,0.045],[0.079,0.08],[0.086,-0.015],[0.094,0.13],[0.101,0.045],[0.109,0.095],[0.116,-0.055],[0.124,0.06],[0.131,0.11],[0.139,0.08],[0.146,-0.02],[0.152,0.06],
  [0.0,-0.13],[0.01,-0.08],[0.02,-0.12],[0.035,-0.09],[0.045,-0.14],[0.06,-0.1],[0.07,-0.13],[0.085,-0.1],[0.1,-0.14],[0.11,-0.09],[-0.02,-0.12],[-0.05,-0.13],[-0.08,-0.11],[0.05,-0.17],[0.09,-0.2],
  [0.155,-0.03],[0.16,0.08],[0.165,-0.08],[0.17,0.04],[0.175,-0.01],[0.18,0.1],[0.185,-0.06],[0.19,0.03],[0.195,-0.04],[0.2,0.085],[0.205,-0.1],[0.21,0.0],[0.215,0.05],[0.22,-0.07],[0.225,-0.03],[0.23,0.02],[0.235,-0.11],[0.24,-0.05],[0.245,0.06],[0.25,-0.02],[0.255,0.1],[0.26,-0.04],[0.265,0.08],[0.27,-0.06],[0.285,0.05],[0.24,0.1],[0.2,-0.05],[0.22,0.04],[0.15,-0.1],[0.17,-0.12]
];

Chart.defaults.font.family = '"Liberation Sans", Arial, sans-serif';
Chart.defaults.animation = false;

const fmt = v => (Math.abs(v) < 1e-9 ? '0.0' : v.toFixed(1)).replace('-', '\u2212');

// border box + dotted zero lines, like ggplot theme
const framePlugin = {
  id: 'frame',
  beforeDatasetsDraw(chart) {
    const {ctx, chartArea: a, scales: {x, y}} = chart;
    ctx.save();
    ctx.strokeStyle = '#555';
    ctx.lineWidth = 1;
    ctx.setLineDash([2, 2]);
    const x0 = Math.round(x.getPixelForValue(0)) + 0.5;
    const y0 = Math.round(y.getPixelForValue(0)) + 0.5;
    ctx.beginPath();
    ctx.moveTo(x0, a.top); ctx.lineTo(x0, a.bottom);
    ctx.moveTo(a.left, y0); ctx.lineTo(a.right, y0);
    ctx.stroke();
    ctx.restore();
  },
  afterDraw(chart) {
    const {ctx, chartArea: a} = chart;
    ctx.save();
    ctx.strokeStyle = '#a0a0a0';
    ctx.lineWidth = 1.2;
    ctx.strokeRect(a.left, a.top, a.right - a.left, a.bottom - a.top);
    ctx.restore();
  }
};

function makePanel(id, cloud, xs, ys, xi, yi, cfg) {
  const parents = genotypes.map((g, i) => ({
    label: g,
    data: [{x: xs[i], y: ys[i]}],
    backgroundColor: genoColors[i],
    borderWidth: 0,
    pointRadius: 5,
    order: 0
  }));
  const magic = {
    label: 'MAGIC Lines',
    data: cloud.map(p => ({x: p[0], y: p[1]})),
    backgroundColor: 'rgba(0,0,0,0)',
    borderColor: 'rgba(50,50,50,0.4)',
    borderWidth: 1,
    pointRadius: 4,
    order: 5
  };
  const axis = (min, max, ticks, title, horiz, size) => ({
    type: 'linear',
    min, max,
    afterBuildTicks: s => { s.ticks = ticks.map(v => ({value: v})); },
    afterFit: s => {
      if (horiz) { s.height = size; s.paddingLeft = 0; s.paddingRight = 0; }
      else { s.width = size; s.paddingTop = 0; s.paddingBottom = 0; }
    },
    ticks: {callback: fmt, color: '#4d4d4d', font: {size: 11}, padding: horiz ? cfg.tickPad : 2, maxRotation: 0, autoSkip: false},
    grid: {display: true, drawOnChartArea: false, drawTicks: true, tickLength: 3, color: '#444'},
    border: {display: false},
    title: {display: true, text: title, color: '#333', font: {size: 12},
      padding: horiz ? {top: 0, bottom: cfg.titlePad} : {top: 4, bottom: 0}}
  });
  return new Chart(document.getElementById(id), {
    type: 'scatter',
    data: {datasets: [...parents, magic]},
    options: {
      responsive: false,
      layout: {padding: {top: cfg.top, right: 1, left: 0, bottom: 0}},
      plugins: {legend: {display: false}, tooltip: {enabled: false}},
      scales: {
        x: axis(cfg.x[0], cfg.x[1], cfg.xt, axisTitles[xi], true, cfg.xh),
        y: axis(cfg.y[0], cfg.y[1], ticksB, axisTitles[yi], false, cfg.yw)
      }
    },
    plugins: [framePlugin]
  });
}

makePanel('p1', cloudPC1PC2, pc1, pc2, 0, 1,
  {x: [-0.220, 0.308], y: [-0.272, 0.275], xt: ticksA, top: 0, xh: 34, yw: 40, tickPad: 2, titlePad: 5});
makePanel('p2', cloudPC2PC3, pc2, pc3, 1, 2,
  {x: [-0.274, 0.268], y: [-0.221, 0.258], xt: ticksB, top: 0, xh: 33, yw: 44, tickPad: 2, titlePad: 5});
makePanel('p3', cloudPC1PC3, pc1, pc3, 0, 2,
  {x: [-0.220, 0.306], y: [-0.220, 0.258], xt: ticksA, top: 9, xh: 34, yw: 40, tickPad: 3, titlePad: 6});
makePanel('p4', cloudPC1PC4, pc1, pc4, 0, 3,
  {x: [-0.223, 0.298], y: [-0.259, 0.221], xt: ticksA, top: 9, xh: 33, yw: 44, tickPad: 3, titlePad: 6});

// legend at the right
const legendTop = [80, 126, 163, 204, 239, 277, 315, 357, 396];
const legend = document.getElementById('legend');
genotypes.concat(['MAGIC Lines']).forEach((name, i) => {
  const row = document.createElement('div');
  row.className = 'leg';
  row.style.top = (legendTop[i] - 7) + 'px';
  const dot = document.createElement('i');
  if (i < genotypes.length) dot.style.background = genoColors[i];
  else dot.style.border = '1.3px solid #222';
  row.appendChild(dot);
  row.appendChild(document.createTextNode(name));
  legend.appendChild(row);
});
</script>
</body>
</html>
